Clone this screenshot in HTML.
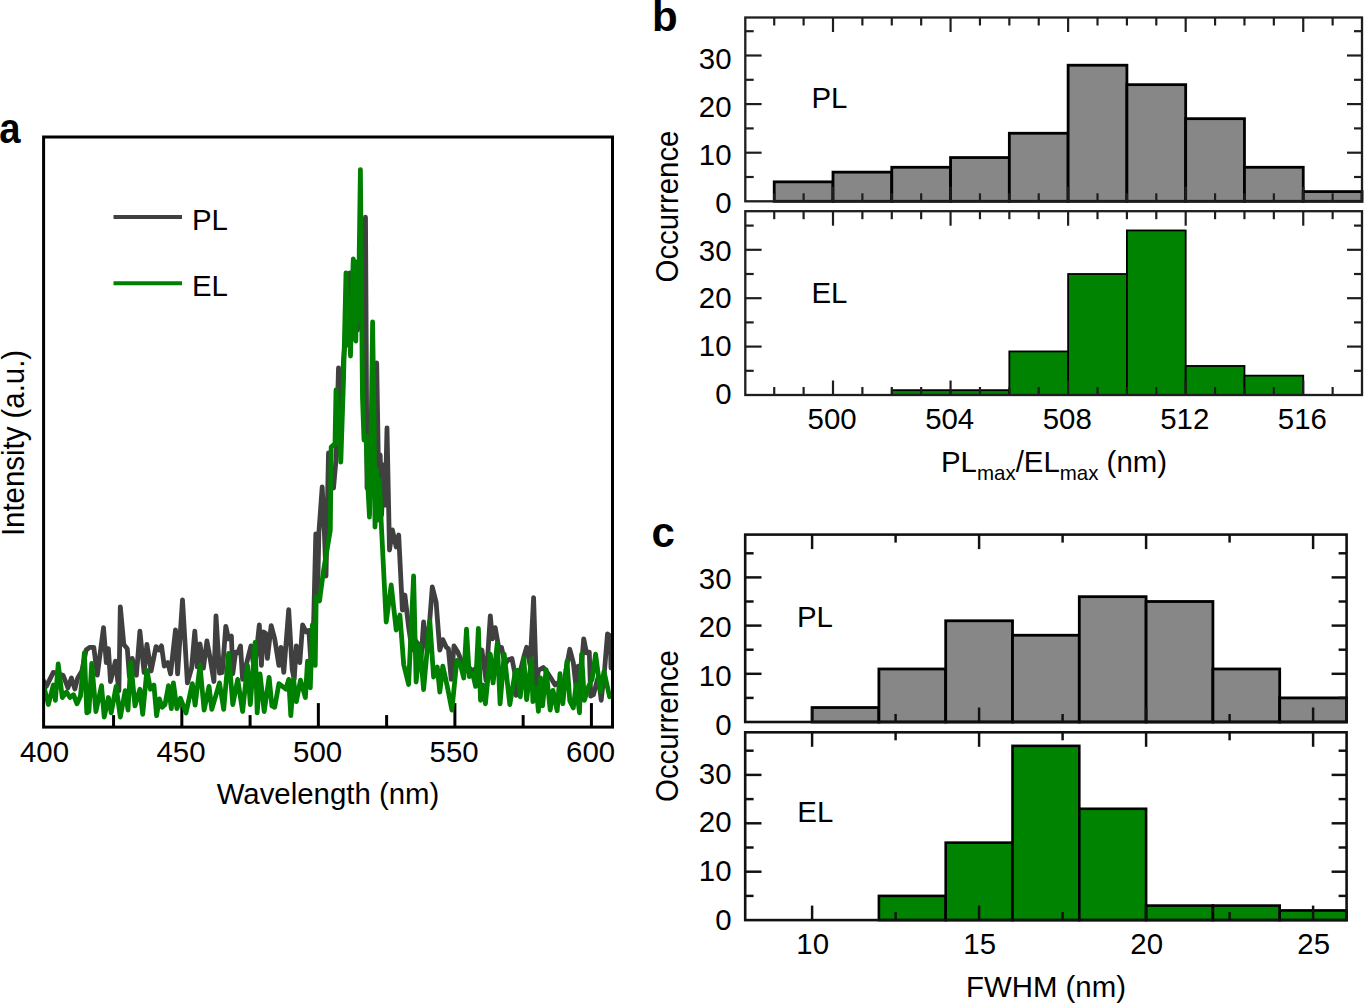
<!DOCTYPE html>
<html><head><meta charset="utf-8"><title>Figure</title>
<style>
html,body{margin:0;padding:0;background:#fff;}
body{width:1365px;height:1003px;overflow:hidden;}
svg{display:block;font-family:"Liberation Sans", sans-serif;}
</style></head>
<body>
<svg width="1365" height="1003" viewBox="0 0 1365 1003" font-family='"Liberation Sans", sans-serif' fill="#000">
<line x1="113.56" y1="727.10" x2="113.56" y2="715.10" stroke="#000" stroke-width="3" stroke-linecap="butt"/>
<line x1="181.83" y1="727.10" x2="181.83" y2="703.10" stroke="#000" stroke-width="3" stroke-linecap="butt"/>
<line x1="250.09" y1="727.10" x2="250.09" y2="715.10" stroke="#000" stroke-width="3" stroke-linecap="butt"/>
<line x1="318.36" y1="727.10" x2="318.36" y2="703.10" stroke="#000" stroke-width="3" stroke-linecap="butt"/>
<line x1="386.62" y1="727.10" x2="386.62" y2="715.10" stroke="#000" stroke-width="3" stroke-linecap="butt"/>
<line x1="454.89" y1="727.10" x2="454.89" y2="703.10" stroke="#000" stroke-width="3" stroke-linecap="butt"/>
<line x1="523.15" y1="727.10" x2="523.15" y2="715.10" stroke="#000" stroke-width="3" stroke-linecap="butt"/>
<line x1="591.42" y1="727.10" x2="591.42" y2="703.10" stroke="#000" stroke-width="3" stroke-linecap="butt"/>
<clipPath id="ca"><rect x="43.6" y="137.0" width="568.9" height="590.1"/></clipPath>
<g clip-path="url(#ca)">
<polyline points="42.1,678.0 46.3,686.4 53.3,672.4 58.2,673.8 63.0,675.2 68.0,687.8 71.4,678.0 74.9,689.0 77.7,678.0 81.9,671.0 86.1,650.0 89.6,647.3 93.8,647.3 97.3,675.2 103.5,627.7 106.3,662.6 108.4,648.7 110.5,681.5 115.4,661.2 118.9,690.6 120.3,606.8 123.8,644.5 127.3,648.7 129.4,676.6 132.2,658.4 136.4,675.2 139.9,631.2 144.1,672.4 146.9,644.5 151.1,671.0 156.0,646.6 158.7,650.0 161.5,645.9 164.3,666.1 167.8,662.6 170.6,673.8 175.5,629.8 177.6,673.8 182.5,599.8 187.4,682.9 191.6,668.2 194.8,631.2 197.2,666.8 200.0,643.8 203.4,668.2 206.9,641.0 210.4,659.8 213.9,681.5 216.0,615.8 219.5,673.1 222.3,672.4 225.8,626.3 228.6,638.9 231.4,636.1 232.8,673.8 235.6,652.2 237.7,652.8 240.5,645.9 242.6,679.4 245.4,668.2 251.0,645.9 254.4,671.0 259.3,624.9 261.4,665.4 263.5,631.9 265.6,633.3 267.4,658.4 271.2,625.6 274.7,638.9 278.9,665.4 281.0,647.3 283.8,672.4 288.7,609.6 292.2,669.6 294.2,679.4 296.3,645.9 299.8,662.6 302.6,624.9 306.1,631.9 308.9,630.5 311.0,664.0 313.7,620.0 315.8,534.0 317.5,598.0 318.9,532.5 322.2,487.0 324.3,530.0 326.0,576.0 328.5,453.0 331.0,475.0 333.5,488.0 336.0,460.0 338.5,368.0 341.0,420.0 343.5,360.0 346.0,330.0 348.0,300.0 350.0,273.0 352.5,310.0 355.0,285.0 357.5,330.0 360.0,300.0 362.5,290.0 365.5,217.2 367.0,488.0 370.0,430.0 373.0,400.0 376.7,363.0 378.5,470.0 380.2,455.0 381.6,515.0 383.4,465.0 385.2,505.0 387.0,428.0 389.5,550.0 392.4,530.0 396.2,547.0 398.7,535.0 402.4,610.0 404.9,595.0 408.6,627.0 412.0,650.0 415.0,640.0 418.6,645.0 421.0,660.0 423.6,622.0 427.3,652.0 432.3,587.0 436.1,602.0 439.8,650.0 442.8,639.6 446.3,647.3 448.4,648.7 451.2,679.4 454.0,645.9 457.5,651.5 461.0,659.8 464.5,672.0 467.9,666.1 472.1,671.0 476.5,668.0 481.9,650.0 486.1,680.8 490.3,615.8 492.4,638.9 495.2,627.7 498.7,647.3 501.5,647.3 504.9,664.0 508.4,659.8 511.9,658.4 514.7,672.4 516.1,695.4 520.3,671.0 523.8,657.0 526.6,647.3 530.1,665.4 533.6,597.7 536.4,686.0 538.4,670.3 543.3,667.5 548.1,673.7 551.6,679.3 555.1,684.9 559.3,682.1 563.0,690.0 566.0,670.0 569.8,649.3 573.3,662.6 576.1,687.7 578.2,666.1 581.0,672.0 583.7,638.8 586.5,652.8 589.3,652.1 590.7,696.1 593.5,694.7 596.0,685.0 598.4,676.5 601.2,700.3 604.7,668.2 607.5,634.0 610.3,636.0 611.0,668.0" fill="none" stroke="#404040" stroke-width="4.8" stroke-linejoin="round" stroke-linecap="round"/>
<polyline points="44.2,687.8 48.4,704.5 53.3,685.0 55.4,700.3 58.2,664.0 62.3,697.5 66.5,692.0 70.0,697.5 73.5,694.7 77.0,703.8 80.5,696.0 84.4,652.8 86.8,712.9 88.9,711.5 91.7,663.3 95.9,711.5 101.5,685.7 104.2,717.0 108.4,697.5 111.2,712.9 116.1,686.4 120.3,717.0 125.2,690.6 128.0,710.0 130.8,662.6 135.0,705.9 139.9,689.2 142.7,714.3 146.9,670.3 150.4,689.2 153.9,685.0 156.6,715.7 159.4,698.9 162.2,707.3 165.0,704.5 168.5,685.7 171.3,708.7 173.4,682.9 176.9,708.7 180.4,698.2 186.0,712.9 192.3,683.6 195.1,705.2 200.0,665.4 204.1,710.1 209.0,686.4 211.8,709.4 219.5,682.9 223.7,709.4 228.6,653.5 232.8,704.5 237.7,679.4 242.6,711.5 247.5,665.4 250.3,704.5 255.1,642.4 257.2,712.9 260.0,673.8 264.2,711.5 269.1,677.3 271.9,705.9 274.7,707.3 278.9,683.6 285.9,689.2 288.7,679.4 290.8,715.7 293.5,679.4 296.3,701.7 300.5,680.1 305.4,697.5 307.5,661.2 310.3,687.8 312.4,624.9 315.2,665.4 316.2,597.0 319.5,601.0 323.5,571.0 330.3,530.0 331.2,447.0 335.0,443.6 336.0,390.0 338.5,420.0 340.8,462.0 343.5,380.0 346.0,273.0 347.5,345.0 349.0,300.0 350.5,356.0 352.0,295.0 353.3,259.0 354.6,330.0 355.8,341.0 356.9,262.0 358.3,320.0 360.4,169.6 362.5,398.0 364.0,440.0 366.0,436.0 367.5,480.0 369.5,517.0 371.0,440.0 372.6,322.0 374.0,420.0 375.0,527.0 376.5,470.0 378.0,520.0 379.5,480.0 381.2,522.0 386.2,622.0 391.2,585.0 396.2,630.0 399.9,615.0 403.7,664.5 408.6,684.5 413.6,576.0 416.1,682.0 419.9,644.6 423.6,689.5 429.8,621.0 433.6,677.0 437.3,667.0 439.8,692.0 442.8,666.1 447.0,685.0 451.9,710.1 456.8,660.5 460.3,664.0 463.7,678.0 466.5,629.1 469.3,676.6 472.8,673.8 475.6,686.4 478.4,628.4 480.5,700.3 483.3,685.0 485.4,703.8 490.3,654.2 493.1,682.9 497.3,643.1 500.1,703.8 504.2,654.2 509.8,704.5 515.4,671.0 517.5,670.3 520.3,696.8 523.8,658.4 526.6,699.6 531.5,659.1 532.9,701.7 536.3,687.7 538.4,711.4 540.5,677.9 542.6,705.8 546.1,669.6 550.2,710.0 553.0,690.5 557.2,710.7 560.0,673.7 562.8,703.7 567.0,661.2 569.8,701.0 573.3,707.9 576.1,684.9 579.5,712.8 581.6,654.2 584.4,700.3 588.6,686.3 592.1,679.3 595.6,654.2 600.5,691.9 604.0,671.6 609.6,696.8 611.0,694.0" fill="none" stroke="#008000" stroke-width="4.8" stroke-linejoin="round" stroke-linecap="round"/>
</g>
<rect x="43.6" y="137.0" width="568.90" height="590.10" fill="none" stroke="#000" stroke-width="3"/>
<text x="0" y="0" transform="translate(44.50,762.30) scale(1,1.03)" font-size="29.4" text-anchor="middle" font-weight="normal" >400</text>
<text x="0" y="0" transform="translate(181.03,762.30) scale(1,1.03)" font-size="29.4" text-anchor="middle" font-weight="normal" >450</text>
<text x="0" y="0" transform="translate(317.56,762.30) scale(1,1.03)" font-size="29.4" text-anchor="middle" font-weight="normal" >500</text>
<text x="0" y="0" transform="translate(454.09,762.30) scale(1,1.03)" font-size="29.4" text-anchor="middle" font-weight="normal" >550</text>
<text x="0" y="0" transform="translate(590.62,762.30) scale(1,1.03)" font-size="29.4" text-anchor="middle" font-weight="normal" >600</text>
<text x="0" y="0" transform="translate(328.00,803.50) scale(1,1.03)" font-size="29.4" text-anchor="middle" font-weight="normal" >Wavelength (nm)</text>
<text x="0" y="0" transform="translate(23.90,443.00) rotate(-90) scale(1,1.05)" font-size="29.4" text-anchor="middle" font-weight="normal" >Intensity (a.u.)</text>
<line x1="113.50" y1="217.00" x2="182.00" y2="217.00" stroke="#404040" stroke-width="4" stroke-linecap="butt"/>
<line x1="113.50" y1="283.30" x2="182.00" y2="283.30" stroke="#008000" stroke-width="4" stroke-linecap="butt"/>
<text x="0" y="0" transform="translate(192.00,229.90) scale(1,1.03)" font-size="29.4" text-anchor="start" font-weight="normal" >PL</text>
<text x="0" y="0" transform="translate(192.00,296.20) scale(1,1.03)" font-size="29.4" text-anchor="start" font-weight="normal" >EL</text>
<text x="0" y="0" transform="translate(-0.80,142.60) scale(0.91,1)" font-size="42" text-anchor="start" font-weight="bold" >a</text>
<rect x="774.22" y="181.86" width="58.78" height="19.44" fill="#878787" stroke="#000" stroke-width="2.8"/>
<rect x="833.00" y="172.14" width="58.78" height="29.16" fill="#878787" stroke="#000" stroke-width="2.8"/>
<rect x="891.78" y="167.28" width="58.78" height="34.02" fill="#878787" stroke="#000" stroke-width="2.8"/>
<rect x="950.56" y="157.56" width="58.78" height="43.74" fill="#878787" stroke="#000" stroke-width="2.8"/>
<rect x="1009.34" y="133.26" width="58.78" height="68.04" fill="#878787" stroke="#000" stroke-width="2.8"/>
<rect x="1068.12" y="65.22" width="58.78" height="136.08" fill="#878787" stroke="#000" stroke-width="2.8"/>
<rect x="1126.90" y="84.66" width="58.78" height="116.64" fill="#878787" stroke="#000" stroke-width="2.8"/>
<rect x="1185.68" y="118.68" width="58.78" height="82.62" fill="#878787" stroke="#000" stroke-width="2.8"/>
<rect x="1244.46" y="167.28" width="58.78" height="34.02" fill="#878787" stroke="#000" stroke-width="2.8"/>
<rect x="1303.24" y="191.58" width="58.78" height="9.72" fill="#878787" stroke="#000" stroke-width="2.8"/>
<line x1="774.22" y1="17.50" x2="774.22" y2="25.50" stroke="#1e1e1e" stroke-width="2.1849999999999996" stroke-linecap="butt"/>
<line x1="774.22" y1="201.30" x2="774.22" y2="193.30" stroke="#1e1e1e" stroke-width="2.1849999999999996" stroke-linecap="butt"/>
<line x1="803.61" y1="17.50" x2="803.61" y2="25.50" stroke="#1e1e1e" stroke-width="2.1849999999999996" stroke-linecap="butt"/>
<line x1="803.61" y1="201.30" x2="803.61" y2="193.30" stroke="#1e1e1e" stroke-width="2.1849999999999996" stroke-linecap="butt"/>
<line x1="862.39" y1="17.50" x2="862.39" y2="25.50" stroke="#1e1e1e" stroke-width="2.1849999999999996" stroke-linecap="butt"/>
<line x1="862.39" y1="201.30" x2="862.39" y2="193.30" stroke="#1e1e1e" stroke-width="2.1849999999999996" stroke-linecap="butt"/>
<line x1="891.78" y1="17.50" x2="891.78" y2="25.50" stroke="#1e1e1e" stroke-width="2.1849999999999996" stroke-linecap="butt"/>
<line x1="891.78" y1="201.30" x2="891.78" y2="193.30" stroke="#1e1e1e" stroke-width="2.1849999999999996" stroke-linecap="butt"/>
<line x1="921.17" y1="17.50" x2="921.17" y2="25.50" stroke="#1e1e1e" stroke-width="2.1849999999999996" stroke-linecap="butt"/>
<line x1="921.17" y1="201.30" x2="921.17" y2="193.30" stroke="#1e1e1e" stroke-width="2.1849999999999996" stroke-linecap="butt"/>
<line x1="979.95" y1="17.50" x2="979.95" y2="25.50" stroke="#1e1e1e" stroke-width="2.1849999999999996" stroke-linecap="butt"/>
<line x1="979.95" y1="201.30" x2="979.95" y2="193.30" stroke="#1e1e1e" stroke-width="2.1849999999999996" stroke-linecap="butt"/>
<line x1="1009.34" y1="17.50" x2="1009.34" y2="25.50" stroke="#1e1e1e" stroke-width="2.1849999999999996" stroke-linecap="butt"/>
<line x1="1009.34" y1="201.30" x2="1009.34" y2="193.30" stroke="#1e1e1e" stroke-width="2.1849999999999996" stroke-linecap="butt"/>
<line x1="1038.73" y1="17.50" x2="1038.73" y2="25.50" stroke="#1e1e1e" stroke-width="2.1849999999999996" stroke-linecap="butt"/>
<line x1="1038.73" y1="201.30" x2="1038.73" y2="193.30" stroke="#1e1e1e" stroke-width="2.1849999999999996" stroke-linecap="butt"/>
<line x1="1097.51" y1="17.50" x2="1097.51" y2="25.50" stroke="#1e1e1e" stroke-width="2.1849999999999996" stroke-linecap="butt"/>
<line x1="1097.51" y1="201.30" x2="1097.51" y2="193.30" stroke="#1e1e1e" stroke-width="2.1849999999999996" stroke-linecap="butt"/>
<line x1="1126.90" y1="17.50" x2="1126.90" y2="25.50" stroke="#1e1e1e" stroke-width="2.1849999999999996" stroke-linecap="butt"/>
<line x1="1126.90" y1="201.30" x2="1126.90" y2="193.30" stroke="#1e1e1e" stroke-width="2.1849999999999996" stroke-linecap="butt"/>
<line x1="1156.29" y1="17.50" x2="1156.29" y2="25.50" stroke="#1e1e1e" stroke-width="2.1849999999999996" stroke-linecap="butt"/>
<line x1="1156.29" y1="201.30" x2="1156.29" y2="193.30" stroke="#1e1e1e" stroke-width="2.1849999999999996" stroke-linecap="butt"/>
<line x1="1215.07" y1="17.50" x2="1215.07" y2="25.50" stroke="#1e1e1e" stroke-width="2.1849999999999996" stroke-linecap="butt"/>
<line x1="1215.07" y1="201.30" x2="1215.07" y2="193.30" stroke="#1e1e1e" stroke-width="2.1849999999999996" stroke-linecap="butt"/>
<line x1="1244.46" y1="17.50" x2="1244.46" y2="25.50" stroke="#1e1e1e" stroke-width="2.1849999999999996" stroke-linecap="butt"/>
<line x1="1244.46" y1="201.30" x2="1244.46" y2="193.30" stroke="#1e1e1e" stroke-width="2.1849999999999996" stroke-linecap="butt"/>
<line x1="1273.85" y1="17.50" x2="1273.85" y2="25.50" stroke="#1e1e1e" stroke-width="2.1849999999999996" stroke-linecap="butt"/>
<line x1="1273.85" y1="201.30" x2="1273.85" y2="193.30" stroke="#1e1e1e" stroke-width="2.1849999999999996" stroke-linecap="butt"/>
<line x1="1332.63" y1="17.50" x2="1332.63" y2="25.50" stroke="#1e1e1e" stroke-width="2.1849999999999996" stroke-linecap="butt"/>
<line x1="1332.63" y1="201.30" x2="1332.63" y2="193.30" stroke="#1e1e1e" stroke-width="2.1849999999999996" stroke-linecap="butt"/>
<line x1="833.00" y1="17.50" x2="833.00" y2="32.00" stroke="#1e1e1e" stroke-width="2.1849999999999996" stroke-linecap="butt"/>
<line x1="833.00" y1="201.30" x2="833.00" y2="186.80" stroke="#1e1e1e" stroke-width="2.1849999999999996" stroke-linecap="butt"/>
<line x1="950.56" y1="17.50" x2="950.56" y2="32.00" stroke="#1e1e1e" stroke-width="2.1849999999999996" stroke-linecap="butt"/>
<line x1="950.56" y1="201.30" x2="950.56" y2="186.80" stroke="#1e1e1e" stroke-width="2.1849999999999996" stroke-linecap="butt"/>
<line x1="1068.12" y1="17.50" x2="1068.12" y2="32.00" stroke="#1e1e1e" stroke-width="2.1849999999999996" stroke-linecap="butt"/>
<line x1="1068.12" y1="201.30" x2="1068.12" y2="186.80" stroke="#1e1e1e" stroke-width="2.1849999999999996" stroke-linecap="butt"/>
<line x1="1185.68" y1="17.50" x2="1185.68" y2="32.00" stroke="#1e1e1e" stroke-width="2.1849999999999996" stroke-linecap="butt"/>
<line x1="1185.68" y1="201.30" x2="1185.68" y2="186.80" stroke="#1e1e1e" stroke-width="2.1849999999999996" stroke-linecap="butt"/>
<line x1="1303.24" y1="17.50" x2="1303.24" y2="32.00" stroke="#1e1e1e" stroke-width="2.1849999999999996" stroke-linecap="butt"/>
<line x1="1303.24" y1="201.30" x2="1303.24" y2="186.80" stroke="#1e1e1e" stroke-width="2.1849999999999996" stroke-linecap="butt"/>
<line x1="745.30" y1="177.00" x2="753.70" y2="177.00" stroke="#1e1e1e" stroke-width="2.1849999999999996" stroke-linecap="butt"/>
<line x1="1362.00" y1="177.00" x2="1354.00" y2="177.00" stroke="#1e1e1e" stroke-width="2.1849999999999996" stroke-linecap="butt"/>
<line x1="745.30" y1="128.40" x2="753.70" y2="128.40" stroke="#1e1e1e" stroke-width="2.1849999999999996" stroke-linecap="butt"/>
<line x1="1362.00" y1="128.40" x2="1354.00" y2="128.40" stroke="#1e1e1e" stroke-width="2.1849999999999996" stroke-linecap="butt"/>
<line x1="745.30" y1="79.80" x2="753.70" y2="79.80" stroke="#1e1e1e" stroke-width="2.1849999999999996" stroke-linecap="butt"/>
<line x1="1362.00" y1="79.80" x2="1354.00" y2="79.80" stroke="#1e1e1e" stroke-width="2.1849999999999996" stroke-linecap="butt"/>
<line x1="745.30" y1="31.20" x2="753.70" y2="31.20" stroke="#1e1e1e" stroke-width="2.1849999999999996" stroke-linecap="butt"/>
<line x1="1362.00" y1="31.20" x2="1354.00" y2="31.20" stroke="#1e1e1e" stroke-width="2.1849999999999996" stroke-linecap="butt"/>
<line x1="745.30" y1="152.70" x2="761.60" y2="152.70" stroke="#1e1e1e" stroke-width="2.1849999999999996" stroke-linecap="butt"/>
<line x1="1362.00" y1="152.70" x2="1347.00" y2="152.70" stroke="#1e1e1e" stroke-width="2.1849999999999996" stroke-linecap="butt"/>
<line x1="745.30" y1="104.10" x2="761.60" y2="104.10" stroke="#1e1e1e" stroke-width="2.1849999999999996" stroke-linecap="butt"/>
<line x1="1362.00" y1="104.10" x2="1347.00" y2="104.10" stroke="#1e1e1e" stroke-width="2.1849999999999996" stroke-linecap="butt"/>
<line x1="745.30" y1="55.50" x2="761.60" y2="55.50" stroke="#1e1e1e" stroke-width="2.1849999999999996" stroke-linecap="butt"/>
<line x1="1362.00" y1="55.50" x2="1347.00" y2="55.50" stroke="#1e1e1e" stroke-width="2.1849999999999996" stroke-linecap="butt"/>
<rect x="745.3" y="17.5" width="616.70" height="183.80" fill="none" stroke="#1e1e1e" stroke-width="2.3"/>
<text x="0" y="0" transform="translate(731.50,212.60) scale(1,1.03)" font-size="29.4" text-anchor="end" font-weight="normal" >0</text>
<text x="0" y="0" transform="translate(731.50,165.00) scale(1,1.03)" font-size="29.4" text-anchor="end" font-weight="normal" >10</text>
<text x="0" y="0" transform="translate(731.50,116.80) scale(1,1.03)" font-size="29.4" text-anchor="end" font-weight="normal" >20</text>
<text x="0" y="0" transform="translate(731.50,68.80) scale(1,1.03)" font-size="29.4" text-anchor="end" font-weight="normal" >30</text>
<rect x="891.78" y="390.16" width="58.78" height="4.84" fill="#008300" stroke="#000" stroke-width="1.8"/>
<rect x="950.56" y="390.16" width="58.78" height="4.84" fill="#008300" stroke="#000" stroke-width="1.8"/>
<rect x="1009.34" y="351.44" width="58.78" height="43.56" fill="#008300" stroke="#000" stroke-width="1.8"/>
<rect x="1068.12" y="274.00" width="58.78" height="121.00" fill="#008300" stroke="#000" stroke-width="1.8"/>
<rect x="1126.90" y="230.44" width="58.78" height="164.56" fill="#008300" stroke="#000" stroke-width="1.8"/>
<rect x="1185.68" y="365.96" width="58.78" height="29.04" fill="#008300" stroke="#000" stroke-width="1.8"/>
<rect x="1244.46" y="375.64" width="58.78" height="19.36" fill="#008300" stroke="#000" stroke-width="1.8"/>
<line x1="774.22" y1="211.20" x2="774.22" y2="219.20" stroke="#1e1e1e" stroke-width="2.1849999999999996" stroke-linecap="butt"/>
<line x1="774.22" y1="395.00" x2="774.22" y2="387.00" stroke="#1e1e1e" stroke-width="2.1849999999999996" stroke-linecap="butt"/>
<line x1="803.61" y1="211.20" x2="803.61" y2="219.20" stroke="#1e1e1e" stroke-width="2.1849999999999996" stroke-linecap="butt"/>
<line x1="803.61" y1="395.00" x2="803.61" y2="387.00" stroke="#1e1e1e" stroke-width="2.1849999999999996" stroke-linecap="butt"/>
<line x1="862.39" y1="211.20" x2="862.39" y2="219.20" stroke="#1e1e1e" stroke-width="2.1849999999999996" stroke-linecap="butt"/>
<line x1="862.39" y1="395.00" x2="862.39" y2="387.00" stroke="#1e1e1e" stroke-width="2.1849999999999996" stroke-linecap="butt"/>
<line x1="891.78" y1="211.20" x2="891.78" y2="219.20" stroke="#1e1e1e" stroke-width="2.1849999999999996" stroke-linecap="butt"/>
<line x1="891.78" y1="395.00" x2="891.78" y2="387.00" stroke="#1e1e1e" stroke-width="2.1849999999999996" stroke-linecap="butt"/>
<line x1="921.17" y1="211.20" x2="921.17" y2="219.20" stroke="#1e1e1e" stroke-width="2.1849999999999996" stroke-linecap="butt"/>
<line x1="921.17" y1="395.00" x2="921.17" y2="387.00" stroke="#1e1e1e" stroke-width="2.1849999999999996" stroke-linecap="butt"/>
<line x1="979.95" y1="211.20" x2="979.95" y2="219.20" stroke="#1e1e1e" stroke-width="2.1849999999999996" stroke-linecap="butt"/>
<line x1="979.95" y1="395.00" x2="979.95" y2="387.00" stroke="#1e1e1e" stroke-width="2.1849999999999996" stroke-linecap="butt"/>
<line x1="1009.34" y1="211.20" x2="1009.34" y2="219.20" stroke="#1e1e1e" stroke-width="2.1849999999999996" stroke-linecap="butt"/>
<line x1="1009.34" y1="395.00" x2="1009.34" y2="387.00" stroke="#1e1e1e" stroke-width="2.1849999999999996" stroke-linecap="butt"/>
<line x1="1038.73" y1="211.20" x2="1038.73" y2="219.20" stroke="#1e1e1e" stroke-width="2.1849999999999996" stroke-linecap="butt"/>
<line x1="1038.73" y1="395.00" x2="1038.73" y2="387.00" stroke="#1e1e1e" stroke-width="2.1849999999999996" stroke-linecap="butt"/>
<line x1="1097.51" y1="211.20" x2="1097.51" y2="219.20" stroke="#1e1e1e" stroke-width="2.1849999999999996" stroke-linecap="butt"/>
<line x1="1097.51" y1="395.00" x2="1097.51" y2="387.00" stroke="#1e1e1e" stroke-width="2.1849999999999996" stroke-linecap="butt"/>
<line x1="1126.90" y1="211.20" x2="1126.90" y2="219.20" stroke="#1e1e1e" stroke-width="2.1849999999999996" stroke-linecap="butt"/>
<line x1="1126.90" y1="395.00" x2="1126.90" y2="387.00" stroke="#1e1e1e" stroke-width="2.1849999999999996" stroke-linecap="butt"/>
<line x1="1156.29" y1="211.20" x2="1156.29" y2="219.20" stroke="#1e1e1e" stroke-width="2.1849999999999996" stroke-linecap="butt"/>
<line x1="1156.29" y1="395.00" x2="1156.29" y2="387.00" stroke="#1e1e1e" stroke-width="2.1849999999999996" stroke-linecap="butt"/>
<line x1="1215.07" y1="211.20" x2="1215.07" y2="219.20" stroke="#1e1e1e" stroke-width="2.1849999999999996" stroke-linecap="butt"/>
<line x1="1215.07" y1="395.00" x2="1215.07" y2="387.00" stroke="#1e1e1e" stroke-width="2.1849999999999996" stroke-linecap="butt"/>
<line x1="1244.46" y1="211.20" x2="1244.46" y2="219.20" stroke="#1e1e1e" stroke-width="2.1849999999999996" stroke-linecap="butt"/>
<line x1="1244.46" y1="395.00" x2="1244.46" y2="387.00" stroke="#1e1e1e" stroke-width="2.1849999999999996" stroke-linecap="butt"/>
<line x1="1273.85" y1="211.20" x2="1273.85" y2="219.20" stroke="#1e1e1e" stroke-width="2.1849999999999996" stroke-linecap="butt"/>
<line x1="1273.85" y1="395.00" x2="1273.85" y2="387.00" stroke="#1e1e1e" stroke-width="2.1849999999999996" stroke-linecap="butt"/>
<line x1="1332.63" y1="211.20" x2="1332.63" y2="219.20" stroke="#1e1e1e" stroke-width="2.1849999999999996" stroke-linecap="butt"/>
<line x1="1332.63" y1="395.00" x2="1332.63" y2="387.00" stroke="#1e1e1e" stroke-width="2.1849999999999996" stroke-linecap="butt"/>
<line x1="833.00" y1="211.20" x2="833.00" y2="225.70" stroke="#1e1e1e" stroke-width="2.1849999999999996" stroke-linecap="butt"/>
<line x1="833.00" y1="395.00" x2="833.00" y2="380.50" stroke="#1e1e1e" stroke-width="2.1849999999999996" stroke-linecap="butt"/>
<line x1="950.56" y1="211.20" x2="950.56" y2="225.70" stroke="#1e1e1e" stroke-width="2.1849999999999996" stroke-linecap="butt"/>
<line x1="950.56" y1="395.00" x2="950.56" y2="380.50" stroke="#1e1e1e" stroke-width="2.1849999999999996" stroke-linecap="butt"/>
<line x1="1068.12" y1="211.20" x2="1068.12" y2="225.70" stroke="#1e1e1e" stroke-width="2.1849999999999996" stroke-linecap="butt"/>
<line x1="1068.12" y1="395.00" x2="1068.12" y2="380.50" stroke="#1e1e1e" stroke-width="2.1849999999999996" stroke-linecap="butt"/>
<line x1="1185.68" y1="211.20" x2="1185.68" y2="225.70" stroke="#1e1e1e" stroke-width="2.1849999999999996" stroke-linecap="butt"/>
<line x1="1185.68" y1="395.00" x2="1185.68" y2="380.50" stroke="#1e1e1e" stroke-width="2.1849999999999996" stroke-linecap="butt"/>
<line x1="1303.24" y1="211.20" x2="1303.24" y2="225.70" stroke="#1e1e1e" stroke-width="2.1849999999999996" stroke-linecap="butt"/>
<line x1="1303.24" y1="395.00" x2="1303.24" y2="380.50" stroke="#1e1e1e" stroke-width="2.1849999999999996" stroke-linecap="butt"/>
<line x1="745.30" y1="370.80" x2="753.70" y2="370.80" stroke="#1e1e1e" stroke-width="2.1849999999999996" stroke-linecap="butt"/>
<line x1="1362.00" y1="370.80" x2="1354.00" y2="370.80" stroke="#1e1e1e" stroke-width="2.1849999999999996" stroke-linecap="butt"/>
<line x1="745.30" y1="322.40" x2="753.70" y2="322.40" stroke="#1e1e1e" stroke-width="2.1849999999999996" stroke-linecap="butt"/>
<line x1="1362.00" y1="322.40" x2="1354.00" y2="322.40" stroke="#1e1e1e" stroke-width="2.1849999999999996" stroke-linecap="butt"/>
<line x1="745.30" y1="274.00" x2="753.70" y2="274.00" stroke="#1e1e1e" stroke-width="2.1849999999999996" stroke-linecap="butt"/>
<line x1="1362.00" y1="274.00" x2="1354.00" y2="274.00" stroke="#1e1e1e" stroke-width="2.1849999999999996" stroke-linecap="butt"/>
<line x1="745.30" y1="225.60" x2="753.70" y2="225.60" stroke="#1e1e1e" stroke-width="2.1849999999999996" stroke-linecap="butt"/>
<line x1="1362.00" y1="225.60" x2="1354.00" y2="225.60" stroke="#1e1e1e" stroke-width="2.1849999999999996" stroke-linecap="butt"/>
<line x1="745.30" y1="346.60" x2="761.60" y2="346.60" stroke="#1e1e1e" stroke-width="2.1849999999999996" stroke-linecap="butt"/>
<line x1="1362.00" y1="346.60" x2="1347.00" y2="346.60" stroke="#1e1e1e" stroke-width="2.1849999999999996" stroke-linecap="butt"/>
<line x1="745.30" y1="298.20" x2="761.60" y2="298.20" stroke="#1e1e1e" stroke-width="2.1849999999999996" stroke-linecap="butt"/>
<line x1="1362.00" y1="298.20" x2="1347.00" y2="298.20" stroke="#1e1e1e" stroke-width="2.1849999999999996" stroke-linecap="butt"/>
<line x1="745.30" y1="249.80" x2="761.60" y2="249.80" stroke="#1e1e1e" stroke-width="2.1849999999999996" stroke-linecap="butt"/>
<line x1="1362.00" y1="249.80" x2="1347.00" y2="249.80" stroke="#1e1e1e" stroke-width="2.1849999999999996" stroke-linecap="butt"/>
<rect x="745.3" y="211.2" width="616.70" height="183.80" fill="none" stroke="#1e1e1e" stroke-width="2.3"/>
<text x="0" y="0" transform="translate(731.50,404.40) scale(1,1.03)" font-size="29.4" text-anchor="end" font-weight="normal" >0</text>
<text x="0" y="0" transform="translate(731.50,356.40) scale(1,1.03)" font-size="29.4" text-anchor="end" font-weight="normal" >10</text>
<text x="0" y="0" transform="translate(731.50,308.20) scale(1,1.03)" font-size="29.4" text-anchor="end" font-weight="normal" >20</text>
<text x="0" y="0" transform="translate(731.50,260.55) scale(1,1.03)" font-size="29.4" text-anchor="end" font-weight="normal" >30</text>
<text x="0" y="0" transform="translate(832.10,429.20) scale(1,1.03)" font-size="29.4" text-anchor="middle" font-weight="normal" >500</text>
<text x="0" y="0" transform="translate(949.66,429.20) scale(1,1.03)" font-size="29.4" text-anchor="middle" font-weight="normal" >504</text>
<text x="0" y="0" transform="translate(1067.22,429.20) scale(1,1.03)" font-size="29.4" text-anchor="middle" font-weight="normal" >508</text>
<text x="0" y="0" transform="translate(1184.78,429.20) scale(1,1.03)" font-size="29.4" text-anchor="middle" font-weight="normal" >512</text>
<text x="0" y="0" transform="translate(1302.34,429.20) scale(1,1.03)" font-size="29.4" text-anchor="middle" font-weight="normal" >516</text>
<rect x="812.10" y="707.54" width="66.80" height="14.46" fill="#878787" stroke="#000" stroke-width="2.8"/>
<rect x="878.90" y="668.98" width="66.80" height="53.02" fill="#878787" stroke="#000" stroke-width="2.8"/>
<rect x="945.70" y="620.78" width="66.80" height="101.22" fill="#878787" stroke="#000" stroke-width="2.8"/>
<rect x="1012.50" y="635.24" width="66.80" height="86.76" fill="#878787" stroke="#000" stroke-width="2.8"/>
<rect x="1079.30" y="596.68" width="66.80" height="125.32" fill="#878787" stroke="#000" stroke-width="2.8"/>
<rect x="1146.10" y="601.50" width="66.80" height="120.50" fill="#878787" stroke="#000" stroke-width="2.8"/>
<rect x="1212.90" y="668.98" width="66.80" height="53.02" fill="#878787" stroke="#000" stroke-width="2.8"/>
<rect x="1279.70" y="697.90" width="66.80" height="24.10" fill="#878787" stroke="#000" stroke-width="2.8"/>
<line x1="895.60" y1="534.60" x2="895.60" y2="542.60" stroke="#111" stroke-width="2.4699999999999998" stroke-linecap="butt"/>
<line x1="895.60" y1="722.00" x2="895.60" y2="714.00" stroke="#111" stroke-width="2.4699999999999998" stroke-linecap="butt"/>
<line x1="1062.60" y1="534.60" x2="1062.60" y2="542.60" stroke="#111" stroke-width="2.4699999999999998" stroke-linecap="butt"/>
<line x1="1062.60" y1="722.00" x2="1062.60" y2="714.00" stroke="#111" stroke-width="2.4699999999999998" stroke-linecap="butt"/>
<line x1="1229.60" y1="534.60" x2="1229.60" y2="542.60" stroke="#111" stroke-width="2.4699999999999998" stroke-linecap="butt"/>
<line x1="1229.60" y1="722.00" x2="1229.60" y2="714.00" stroke="#111" stroke-width="2.4699999999999998" stroke-linecap="butt"/>
<line x1="812.10" y1="534.60" x2="812.10" y2="549.10" stroke="#111" stroke-width="2.4699999999999998" stroke-linecap="butt"/>
<line x1="812.10" y1="722.00" x2="812.10" y2="707.50" stroke="#111" stroke-width="2.4699999999999998" stroke-linecap="butt"/>
<line x1="979.10" y1="534.60" x2="979.10" y2="549.10" stroke="#111" stroke-width="2.4699999999999998" stroke-linecap="butt"/>
<line x1="979.10" y1="722.00" x2="979.10" y2="707.50" stroke="#111" stroke-width="2.4699999999999998" stroke-linecap="butt"/>
<line x1="1146.10" y1="534.60" x2="1146.10" y2="549.10" stroke="#111" stroke-width="2.4699999999999998" stroke-linecap="butt"/>
<line x1="1146.10" y1="722.00" x2="1146.10" y2="707.50" stroke="#111" stroke-width="2.4699999999999998" stroke-linecap="butt"/>
<line x1="1313.10" y1="534.60" x2="1313.10" y2="549.10" stroke="#111" stroke-width="2.4699999999999998" stroke-linecap="butt"/>
<line x1="1313.10" y1="722.00" x2="1313.10" y2="707.50" stroke="#111" stroke-width="2.4699999999999998" stroke-linecap="butt"/>
<line x1="745.20" y1="697.90" x2="753.60" y2="697.90" stroke="#111" stroke-width="2.4699999999999998" stroke-linecap="butt"/>
<line x1="1346.60" y1="697.90" x2="1338.60" y2="697.90" stroke="#111" stroke-width="2.4699999999999998" stroke-linecap="butt"/>
<line x1="745.20" y1="649.70" x2="753.60" y2="649.70" stroke="#111" stroke-width="2.4699999999999998" stroke-linecap="butt"/>
<line x1="1346.60" y1="649.70" x2="1338.60" y2="649.70" stroke="#111" stroke-width="2.4699999999999998" stroke-linecap="butt"/>
<line x1="745.20" y1="601.50" x2="753.60" y2="601.50" stroke="#111" stroke-width="2.4699999999999998" stroke-linecap="butt"/>
<line x1="1346.60" y1="601.50" x2="1338.60" y2="601.50" stroke="#111" stroke-width="2.4699999999999998" stroke-linecap="butt"/>
<line x1="745.20" y1="553.30" x2="753.60" y2="553.30" stroke="#111" stroke-width="2.4699999999999998" stroke-linecap="butt"/>
<line x1="1346.60" y1="553.30" x2="1338.60" y2="553.30" stroke="#111" stroke-width="2.4699999999999998" stroke-linecap="butt"/>
<line x1="745.20" y1="673.80" x2="761.50" y2="673.80" stroke="#111" stroke-width="2.4699999999999998" stroke-linecap="butt"/>
<line x1="1346.60" y1="673.80" x2="1331.60" y2="673.80" stroke="#111" stroke-width="2.4699999999999998" stroke-linecap="butt"/>
<line x1="745.20" y1="625.60" x2="761.50" y2="625.60" stroke="#111" stroke-width="2.4699999999999998" stroke-linecap="butt"/>
<line x1="1346.60" y1="625.60" x2="1331.60" y2="625.60" stroke="#111" stroke-width="2.4699999999999998" stroke-linecap="butt"/>
<line x1="745.20" y1="577.40" x2="761.50" y2="577.40" stroke="#111" stroke-width="2.4699999999999998" stroke-linecap="butt"/>
<line x1="1346.60" y1="577.40" x2="1331.60" y2="577.40" stroke="#111" stroke-width="2.4699999999999998" stroke-linecap="butt"/>
<rect x="745.2" y="534.6" width="601.40" height="187.40" fill="none" stroke="#111" stroke-width="2.6"/>
<text x="0" y="0" transform="translate(731.50,734.80) scale(1,1.03)" font-size="29.4" text-anchor="end" font-weight="normal" >0</text>
<text x="0" y="0" transform="translate(731.50,685.90) scale(1,1.03)" font-size="29.4" text-anchor="end" font-weight="normal" >10</text>
<text x="0" y="0" transform="translate(731.50,637.20) scale(1,1.03)" font-size="29.4" text-anchor="end" font-weight="normal" >20</text>
<text x="0" y="0" transform="translate(731.50,588.50) scale(1,1.03)" font-size="29.4" text-anchor="end" font-weight="normal" >30</text>
<rect x="878.90" y="895.90" width="66.80" height="24.20" fill="#008300" stroke="#000" stroke-width="2.6"/>
<rect x="945.70" y="842.66" width="66.80" height="77.44" fill="#008300" stroke="#000" stroke-width="2.6"/>
<rect x="1012.50" y="745.86" width="66.80" height="174.24" fill="#008300" stroke="#000" stroke-width="2.6"/>
<rect x="1079.30" y="808.78" width="66.80" height="111.32" fill="#008300" stroke="#000" stroke-width="2.6"/>
<rect x="1146.10" y="905.58" width="66.80" height="14.52" fill="#008300" stroke="#000" stroke-width="2.6"/>
<rect x="1212.90" y="905.58" width="66.80" height="14.52" fill="#008300" stroke="#000" stroke-width="2.6"/>
<rect x="1279.70" y="910.42" width="66.80" height="9.68" fill="#008300" stroke="#000" stroke-width="2.6"/>
<line x1="895.60" y1="732.30" x2="895.60" y2="740.30" stroke="#111" stroke-width="2.4699999999999998" stroke-linecap="butt"/>
<line x1="895.60" y1="920.10" x2="895.60" y2="912.10" stroke="#111" stroke-width="2.4699999999999998" stroke-linecap="butt"/>
<line x1="1062.60" y1="732.30" x2="1062.60" y2="740.30" stroke="#111" stroke-width="2.4699999999999998" stroke-linecap="butt"/>
<line x1="1062.60" y1="920.10" x2="1062.60" y2="912.10" stroke="#111" stroke-width="2.4699999999999998" stroke-linecap="butt"/>
<line x1="1229.60" y1="732.30" x2="1229.60" y2="740.30" stroke="#111" stroke-width="2.4699999999999998" stroke-linecap="butt"/>
<line x1="1229.60" y1="920.10" x2="1229.60" y2="912.10" stroke="#111" stroke-width="2.4699999999999998" stroke-linecap="butt"/>
<line x1="812.10" y1="732.30" x2="812.10" y2="746.80" stroke="#111" stroke-width="2.4699999999999998" stroke-linecap="butt"/>
<line x1="812.10" y1="920.10" x2="812.10" y2="905.60" stroke="#111" stroke-width="2.4699999999999998" stroke-linecap="butt"/>
<line x1="979.10" y1="732.30" x2="979.10" y2="746.80" stroke="#111" stroke-width="2.4699999999999998" stroke-linecap="butt"/>
<line x1="979.10" y1="920.10" x2="979.10" y2="905.60" stroke="#111" stroke-width="2.4699999999999998" stroke-linecap="butt"/>
<line x1="1146.10" y1="732.30" x2="1146.10" y2="746.80" stroke="#111" stroke-width="2.4699999999999998" stroke-linecap="butt"/>
<line x1="1146.10" y1="920.10" x2="1146.10" y2="905.60" stroke="#111" stroke-width="2.4699999999999998" stroke-linecap="butt"/>
<line x1="1313.10" y1="732.30" x2="1313.10" y2="746.80" stroke="#111" stroke-width="2.4699999999999998" stroke-linecap="butt"/>
<line x1="1313.10" y1="920.10" x2="1313.10" y2="905.60" stroke="#111" stroke-width="2.4699999999999998" stroke-linecap="butt"/>
<line x1="745.20" y1="895.90" x2="753.60" y2="895.90" stroke="#111" stroke-width="2.4699999999999998" stroke-linecap="butt"/>
<line x1="1346.60" y1="895.90" x2="1338.60" y2="895.90" stroke="#111" stroke-width="2.4699999999999998" stroke-linecap="butt"/>
<line x1="745.20" y1="847.50" x2="753.60" y2="847.50" stroke="#111" stroke-width="2.4699999999999998" stroke-linecap="butt"/>
<line x1="1346.60" y1="847.50" x2="1338.60" y2="847.50" stroke="#111" stroke-width="2.4699999999999998" stroke-linecap="butt"/>
<line x1="745.20" y1="799.10" x2="753.60" y2="799.10" stroke="#111" stroke-width="2.4699999999999998" stroke-linecap="butt"/>
<line x1="1346.60" y1="799.10" x2="1338.60" y2="799.10" stroke="#111" stroke-width="2.4699999999999998" stroke-linecap="butt"/>
<line x1="745.20" y1="750.70" x2="753.60" y2="750.70" stroke="#111" stroke-width="2.4699999999999998" stroke-linecap="butt"/>
<line x1="1346.60" y1="750.70" x2="1338.60" y2="750.70" stroke="#111" stroke-width="2.4699999999999998" stroke-linecap="butt"/>
<line x1="745.20" y1="871.70" x2="761.50" y2="871.70" stroke="#111" stroke-width="2.4699999999999998" stroke-linecap="butt"/>
<line x1="1346.60" y1="871.70" x2="1331.60" y2="871.70" stroke="#111" stroke-width="2.4699999999999998" stroke-linecap="butt"/>
<line x1="745.20" y1="823.30" x2="761.50" y2="823.30" stroke="#111" stroke-width="2.4699999999999998" stroke-linecap="butt"/>
<line x1="1346.60" y1="823.30" x2="1331.60" y2="823.30" stroke="#111" stroke-width="2.4699999999999998" stroke-linecap="butt"/>
<line x1="745.20" y1="774.90" x2="761.50" y2="774.90" stroke="#111" stroke-width="2.4699999999999998" stroke-linecap="butt"/>
<line x1="1346.60" y1="774.90" x2="1331.60" y2="774.90" stroke="#111" stroke-width="2.4699999999999998" stroke-linecap="butt"/>
<rect x="745.2" y="732.3" width="601.40" height="187.80" fill="none" stroke="#111" stroke-width="2.6"/>
<text x="0" y="0" transform="translate(731.50,929.85) scale(1,1.03)" font-size="29.4" text-anchor="end" font-weight="normal" >0</text>
<text x="0" y="0" transform="translate(731.50,881.15) scale(1,1.03)" font-size="29.4" text-anchor="end" font-weight="normal" >10</text>
<text x="0" y="0" transform="translate(731.50,832.30) scale(1,1.03)" font-size="29.4" text-anchor="end" font-weight="normal" >20</text>
<text x="0" y="0" transform="translate(731.50,783.80) scale(1,1.03)" font-size="29.4" text-anchor="end" font-weight="normal" >30</text>
<text x="0" y="0" transform="translate(812.70,953.50) scale(1,1.03)" font-size="29.4" text-anchor="middle" font-weight="normal" >10</text>
<text x="0" y="0" transform="translate(979.70,953.50) scale(1,1.03)" font-size="29.4" text-anchor="middle" font-weight="normal" >15</text>
<text x="0" y="0" transform="translate(1146.70,953.50) scale(1,1.03)" font-size="29.4" text-anchor="middle" font-weight="normal" >20</text>
<text x="0" y="0" transform="translate(1313.70,953.50) scale(1,1.03)" font-size="29.4" text-anchor="middle" font-weight="normal" >25</text>
<text x="0" y="0" transform="translate(811.50,108.20) scale(1,1.03)" font-size="29.4" text-anchor="start" font-weight="normal" >PL</text>
<text x="0" y="0" transform="translate(811.50,302.70) scale(1,1.03)" font-size="29.4" text-anchor="start" font-weight="normal" >EL</text>
<text x="0" y="0" transform="translate(797.00,627.20) scale(1,1.03)" font-size="29.4" text-anchor="start" font-weight="normal" >PL</text>
<text x="0" y="0" transform="translate(797.30,821.60) scale(1,1.03)" font-size="29.4" text-anchor="start" font-weight="normal" >EL</text>
<text x="0" y="0" transform="translate(677.50,206.50) rotate(-90) scale(1,1.06)" font-size="29.4" text-anchor="middle" font-weight="normal" >Occurrence</text>
<text x="0" y="0" transform="translate(677.80,726.00) rotate(-90) scale(1,1.06)" font-size="29.4" text-anchor="middle" font-weight="normal" >Occurrence</text>
<text x="0" y="0" transform="translate(1054.00,472.00) scale(1,1.03)" font-size="29.4" text-anchor="middle" font-weight="normal" >PL<tspan font-size="20.5" dy="8">max</tspan><tspan dy="-8">/EL</tspan><tspan font-size="20.5" dy="8">max</tspan><tspan dy="-8"> (nm)</tspan></text>
<text x="0" y="0" transform="translate(1046.00,996.50) scale(1,1.03)" font-size="29.4" text-anchor="middle" font-weight="normal" >FWHM (nm)</text>
<text x="0" y="0" transform="translate(652.00,30.50)" font-size="42" text-anchor="start" font-weight="bold" >b</text>
<text x="0" y="0" transform="translate(651.50,547.00)" font-size="42" text-anchor="start" font-weight="bold" >c</text>
</svg>
</body></html>
